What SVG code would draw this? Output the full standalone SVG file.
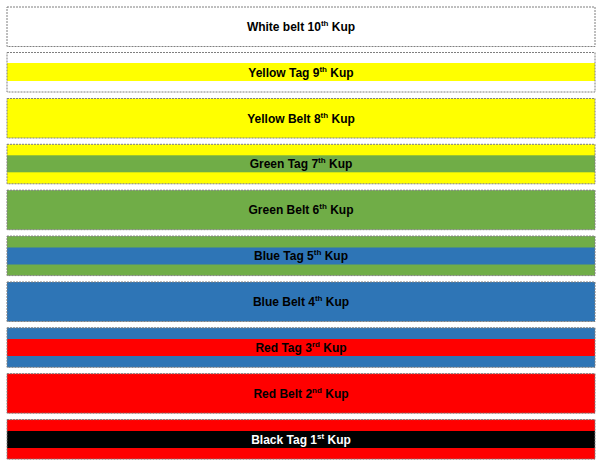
<svg xmlns="http://www.w3.org/2000/svg" width="600" height="465" viewBox="0 0 600 465">
<style>
.b{stroke:#7f7f7f;stroke-width:1;stroke-dasharray:2,1}
.t{font-family:"Liberation Sans",Arial,sans-serif;font-weight:bold;font-size:12px;text-anchor:middle;fill:#000}
.s{font-size:8px}
.w{fill:#fff}
</style>
<rect width="600" height="465" fill="#fff"/>
<g id="white-belt">
<rect class="b" x="7" y="7" width="588" height="39.5" fill="#fff"/>
<text class="t" x="301" y="31">White belt 10<tspan class="s" dy="-5">th</tspan><tspan dy="5"> Kup</tspan></text>
</g>
<g id="yellow-tag">
<rect x="7" y="63" width="588" height="18" fill="#ffff00"/>
<rect class="b" x="7" y="52.5" width="588" height="39.5" fill="none"/>
<text class="t" x="301" y="77">Yellow Tag 9<tspan class="s" dy="-5">th</tspan><tspan dy="5"> Kup</tspan></text>
</g>
<g id="yellow-belt">
<rect class="b" x="7" y="98.5" width="588" height="39.5" fill="#ffff00"/>
<text class="t" x="301" y="122.5">Yellow Belt 8<tspan class="s" dy="-5">th</tspan><tspan dy="5"> Kup</tspan></text>
</g>
<g id="green-tag">
<rect x="7" y="144.3" width="588" height="39.5" fill="#ffff00"/>
<rect x="7" y="155.3" width="588" height="17" fill="#70ad47"/>
<rect class="b" x="7" y="144.3" width="588" height="39.5" fill="none"/>
<text class="t" x="301" y="168.3">Green Tag 7<tspan class="s" dy="-5">th</tspan><tspan dy="5"> Kup</tspan></text>
</g>
<g id="green-belt">
<rect class="b" x="7" y="190.2" width="588" height="39.5" fill="#70ad47"/>
<text class="t" x="301" y="214.2">Green Belt 6<tspan class="s" dy="-5">th</tspan><tspan dy="5"> Kup</tspan></text>
</g>
<g id="blue-tag">
<rect x="7" y="236.1" width="588" height="39.5" fill="#70ad47"/>
<rect x="7" y="247.5" width="588" height="17" fill="#2e75b6"/>
<rect class="b" x="7" y="236.1" width="588" height="39.5" fill="none"/>
<text class="t" x="301" y="260.1">Blue Tag 5<tspan class="s" dy="-5">th</tspan><tspan dy="5"> Kup</tspan></text>
</g>
<g id="blue-belt">
<rect class="b" x="7" y="282" width="588" height="39.5" fill="#2e75b6"/>
<text class="t" x="301" y="306">Blue Belt 4<tspan class="s" dy="-5">th</tspan><tspan dy="5"> Kup</tspan></text>
</g>
<g id="red-tag">
<rect x="7" y="327.8" width="588" height="39.5" fill="#2e75b6"/>
<rect x="7" y="339" width="588" height="17" fill="#ff0000"/>
<rect class="b" x="7" y="327.8" width="588" height="39.5" fill="none"/>
<text class="t" x="301" y="351.8">Red Tag 3<tspan class="s" dy="-5">rd</tspan><tspan dy="5"> Kup</tspan></text>
</g>
<g id="red-belt">
<rect class="b" x="7" y="373.7" width="588" height="39.5" fill="#ff0000"/>
<text class="t" x="301" y="397.7">Red Belt 2<tspan class="s" dy="-5">nd</tspan><tspan dy="5"> Kup</tspan></text>
</g>
<g id="black-tag">
<rect x="7" y="419.6" width="588" height="39.5" fill="#ff0000"/>
<rect x="7" y="431" width="588" height="17" fill="#000"/>
<rect class="b" x="7" y="419.6" width="588" height="39.5" fill="none"/>
<text class="t w" x="301" y="443.6">Black Tag 1<tspan class="s" dy="-5">st</tspan><tspan dy="5"> Kup</tspan></text>
</g>
</svg>
